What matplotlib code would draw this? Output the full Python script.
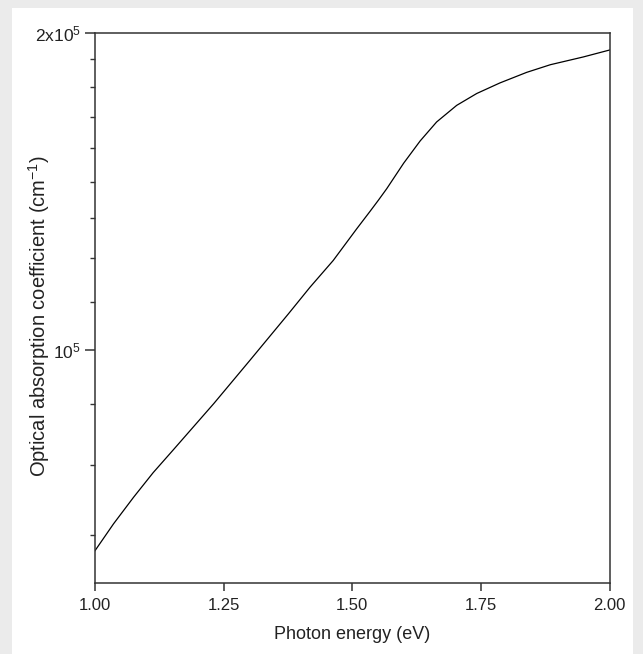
import matplotlib
matplotlib.use('Agg')
import matplotlib.pyplot as plt
from matplotlib.patches import Rectangle
from matplotlib.ticker import FixedLocator, NullFormatter

plt.rcParams['font.family'] = 'Liberation Sans'
plt.rcParams['mathtext.fontset'] = 'custom'
plt.rcParams['mathtext.rm'] = 'Liberation Sans'
plt.rcParams['mathtext.it'] = 'Liberation Sans'

# Values (photon energy in eV, absorption in cm^-1)
energy = [1.000, 1.036, 1.075, 1.113, 1.152, 1.231, 1.301, 1.376, 1.418,
          1.463, 1.509, 1.535, 1.551, 1.567, 1.600, 1.632, 1.664, 1.703,
          1.742, 1.787, 1.839, 1.885, 1.949, 2.000]
alpha = [64400, 68300, 72400, 76400, 80300, 88900, 97700, 108200, 114700,
         121600, 130400, 135500, 138800, 142300, 150500, 158000, 164700, 170800,
         175300, 179400, 183600, 186700, 189900, 192800]

x_ticks = [1.00, 1.25, 1.50, 1.75, 2.00]
x_tick_labels = ['1.00', '1.25', '1.50', '1.75', '2.00']
y_ticks = [1e5, 2e5]
y_tick_labels = ['10$^{5}$', '2x10$^{5}$']
y_min_ticks = [1e5 + k * 1e5 / 9 for k in range(1, 9)] + [1e5 - k * 1e5 / 9 for k in range(1, 4)]

fig = plt.figure(figsize=(6.43, 6.54), dpi=100)
fig.patch.set_facecolor('#ebebeb')
card = Rectangle((12 / 643, 0), (633 - 12) / 643, (654 - 8) / 654,
                 transform=fig.transFigure, facecolor='white',
                 edgecolor='none', zorder=-10)
fig.add_artist(card)

ax = fig.add_axes([95 / 643, 1 - 583 / 654, (609.5 - 95) / 643, (583 - 33.3) / 654])
ax.set_zorder(1)
ax.plot(energy, alpha, color='black', linewidth=0.9)

ax.set_yscale('log')
ax.set_xlim(1.0, 2.0)
ax.set_ylim(6e4, 2e5)

ax.set_xticks(x_ticks)
ax.set_xticklabels(x_tick_labels)
ax.yaxis.set_major_locator(FixedLocator(y_ticks))
ax.yaxis.set_minor_locator(FixedLocator(y_min_ticks))
ax.set_yticklabels(y_tick_labels)
ax.yaxis.set_minor_formatter(NullFormatter())

for s in ax.spines.values():
    s.set_color('#333333')
    s.set_linewidth(1.1)

ax.tick_params(axis='x', direction='out', length=6, width=1.1, color='#333333',
               labelsize=12, pad=5, labelcolor='#222222')
ax.tick_params(axis='y', which='major', direction='out', length=7, width=1.1,
               color='#333333', labelsize=12.5, pad=3, labelcolor='#222222')
ax.tick_params(axis='y', which='minor', direction='out', length=3.5, width=1.0,
               color='#333333')

ax.set_xlabel('Photon energy (eV)', fontsize=13, color='#222222')
ax.set_ylabel('Optical absorption coefficient (cm$^{-1}$)', fontsize=14.5, color='#222222')
ax.xaxis.set_label_coords(0.5, -(626 - 583) / 549.7)
ax.yaxis.set_label_coords(-(95 - 52) / 514.5, 0.485)

plt.savefig('out.png', dpi=100, facecolor=fig.get_facecolor())
